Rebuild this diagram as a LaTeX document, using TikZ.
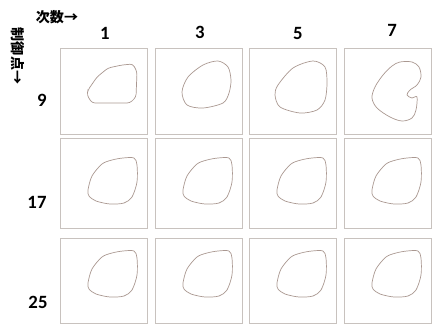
\documentclass[tikz,border=0pt]{standalone}
\usepackage{fontspec}
\setmainfont{Carlito}
\newfontfamily\jpfont{Noto Sans CJK JP}
\usetikzlibrary{positioning}
\definecolor{framegray}{RGB}{200,194,190}
\definecolor{curvebrown}{RGB}{170,152,145}

\begin{document}
\begin{tikzpicture}[x=0.03cm,y=-0.03cm,
  panel/.style={draw=framegray,line width=1pt,minimum width=2.61cm,anchor=north west,inner sep=0pt},
  curve/.style={draw=curvebrown,line width=0.6pt},
  numlabel/.style={font=\fontsize{16}{18}\selectfont\bfseries},
  axislabel/.style={font=\jpfont\bfseries\fontsize{12}{14}\selectfont,inner sep=0pt}]
\useasboundingbox (0,0) rectangle (436,334);

% panels: rows = control points, columns = degree
\foreach \r/\ty/\h in {9/48/2.58cm,17/138/2.7cm,25/238/2.55cm}
  \foreach \c/\lx in {1/60,3/155,5/249,7/344}
    \node[panel,minimum height=\h] (p-\r-\c) at (\lx,\ty) {};

\node[axislabel] (deg) at (57,17) {次数→};
\node[axislabel,rotate=-90] (ctrl) at (18,56) {制御点→};
\node[numlabel] (c1) at (105,33) {1};
\node[numlabel] (c3) at (200,32) {3};
\node[numlabel] (c5) at (298,33) {5};
\node[numlabel] (c7) at (392,30) {7};
\node[numlabel] (r9) at (42,100) {9};
\node[numlabel] (r17) at (37,202) {17};
\node[numlabel] (r25) at (38,302) {25};

% row 9
\begin{scope}[shift={(p-9-1.north west)}]
\draw[curve,rounded corners=2.5pt] (28,42) -- (37,29) -- (48,20) -- (62,17) -- (73,16) -- (77,24)
  -- (76,49) -- (70,55) -- (45,55) -- (32,55) -- (27,47) -- cycle;
\end{scope}
\begin{scope}[shift={(p-9-3.north west)}]
\draw[curve] plot[smooth cycle] coordinates {(48,17) (63,13) (73,19) (76,32) (74,45) (68,55) (48,60) (32,57) (27,44) (33,29)};
\end{scope}
\begin{scope}[shift={(p-9-5.north west)}]
\draw[curve] plot[smooth cycle] coordinates {(64,13) (76,19) (78,35) (76,52) (68,62) (51,65) (31,59) (26,47) (29,37) (44,20)};
\end{scope}
\begin{scope}[shift={(p-9-7.north west)}]
\draw[curve] plot[smooth cycle,tension=0.55] coordinates {(56,14) (68,14) (75,19) (77,29) (73,37) (66,42) (63,47) (68,50) (73,49)
  (72,62) (68,70) (58,73) (46,69) (33,60) (28,50) (31,39) (39,27) (48,18)};
\end{scope}

% rows 17 and 25
\foreach \r/\dy in {17/0,25/-7}
  \foreach \c in {1,3,5,7}
  {
    \begin{scope}[shift={(p-\r-\c.north west)},shift={(0,\dy)}]
    \draw[curve] plot[smooth cycle] coordinates {(28,52) (32,38) (42,26) (52,22) (63,20) (74,20) (77,27)
      (77,44) (72,59) (64,65) (50,66) (36,63) (29,58)};
    \end{scope}
  }
\end{tikzpicture}
\end{document}
